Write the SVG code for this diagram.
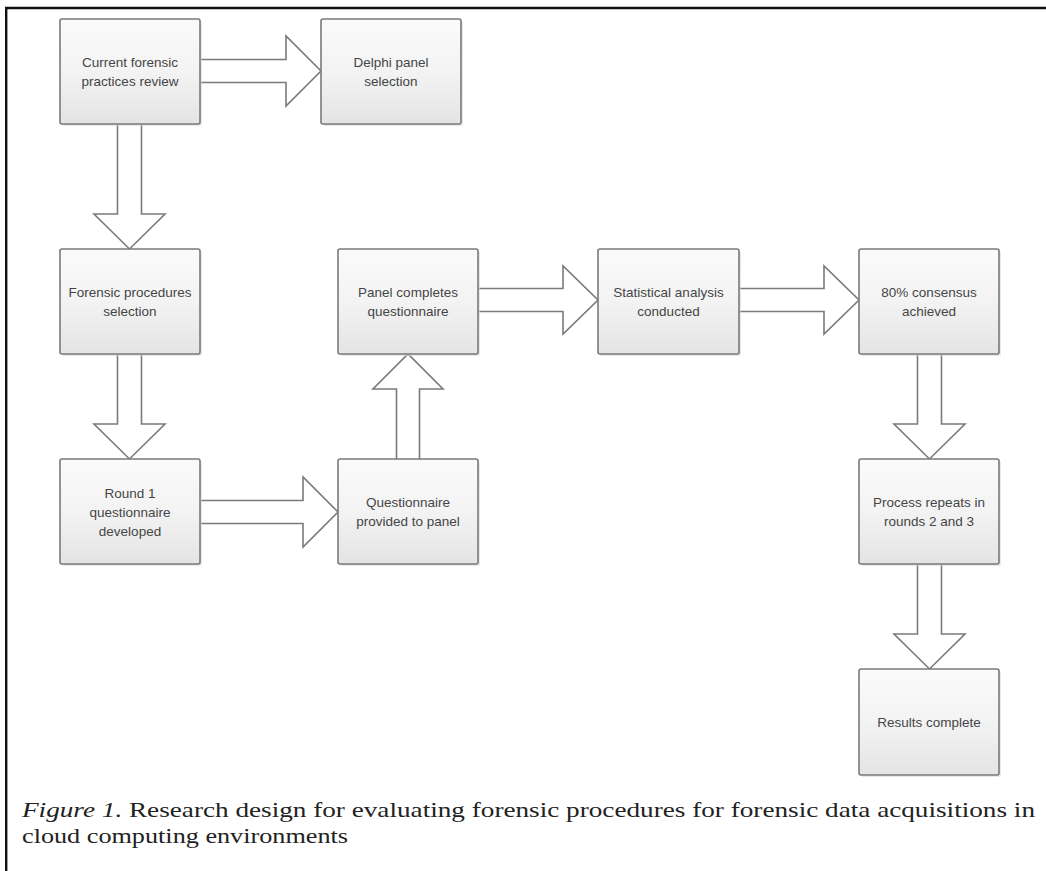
<svg xmlns="http://www.w3.org/2000/svg" width="1046" height="871" viewBox="0 0 1046 871">
<defs>
<linearGradient id="boxfill" x1="0" y1="0" x2="0" y2="1">
<stop offset="0" stop-color="#fbfbfb"/>
<stop offset="0.5" stop-color="#f3f3f3"/>
<stop offset="1" stop-color="#e4e4e4"/>
</linearGradient>
</defs>
<style>
.box{fill:url(#boxfill);stroke:#7a7a7a;stroke-width:1.6}
.shadow{fill:#d8d8d8;opacity:0.6}
.lbl{font-family:"Liberation Sans",Arial,sans-serif;font-size:13.5px;fill:#454545;text-anchor:middle}
.arrow{fill:#ffffff;stroke:#7a7a7a;stroke-width:1.6;stroke-linejoin:miter}
.cap{font-family:"Liberation Serif","Times New Roman",serif;font-size:22px;fill:#222222}
</style>
<rect x="0" y="0" width="1046" height="871" fill="#ffffff"/>
<g id="frame">
<line x1="5" y1="8" x2="1046" y2="8" stroke="#111" stroke-width="2.4"/>
<line x1="6.2" y1="7" x2="6.2" y2="871" stroke="#111" stroke-width="2.4"/>
</g>
<g id="connectors">
<path class="arrow" d="M200,59.5 H286 V36 L321,71 L286,106 V82.5 H200"/>
<path class="arrow" d="M199,500.5 H303 V477 L338,512 L303,547 V523.5 H199"/>
<path class="arrow" d="M478,288.5 H563 V266 L598,300 L563,334 V311.5 H478"/>
<path class="arrow" d="M739,288.5 H824 V266 L859,300 L824,334 V311.5 H739"/>
<path class="arrow" d="M117.5,124 V214 H94 L129.5,249 L165,214 H141.5 V124"/>
<path class="arrow" d="M117.5,354 V424 H94 L129.5,459 L165,424 H141.5 V354"/>
<path class="arrow" d="M917.5,354 V424 H894 L929.5,459 L965,424 H941.5 V354"/>
<path class="arrow" d="M917.5,564 V634 H894 L929.5,669 L965,634 H941.5 V564"/>
<path class="arrow" d="M396.5,459 V389 H373 L408,354 L443,389 H419.5 V459"/>
</g>
<g id="n1">
<rect class="shadow" x="62" y="21" width="140" height="105" rx="2"/>
<rect class="box" x="60" y="19" width="140" height="105" rx="2"/>
<text class="lbl" x="130" y="67">Current forensic</text>
<text class="lbl" x="130" y="86">practices review</text>
</g>
<g id="n2">
<rect class="shadow" x="323" y="21" width="140" height="105" rx="2"/>
<rect class="box" x="321" y="19" width="140" height="105" rx="2"/>
<text class="lbl" x="391" y="67">Delphi panel</text>
<text class="lbl" x="391" y="86">selection</text>
</g>
<g id="n3">
<rect class="shadow" x="62" y="251" width="140" height="105" rx="2"/>
<rect class="box" x="60" y="249" width="140" height="105" rx="2"/>
<text class="lbl" x="130" y="297">Forensic procedures</text>
<text class="lbl" x="130" y="316">selection</text>
</g>
<g id="n4">
<rect class="shadow" x="62" y="461" width="140" height="105" rx="2"/>
<rect class="box" x="60" y="459" width="140" height="105" rx="2"/>
<text class="lbl" x="130" y="498">Round 1</text>
<text class="lbl" x="130" y="517">questionnaire</text>
<text class="lbl" x="130" y="536">developed</text>
</g>
<g id="n5">
<rect class="shadow" x="340" y="461" width="140" height="105" rx="2"/>
<rect class="box" x="338" y="459" width="140" height="105" rx="2"/>
<text class="lbl" x="408" y="507">Questionnaire</text>
<text class="lbl" x="408" y="526">provided to panel</text>
</g>
<g id="n6">
<rect class="shadow" x="340" y="251" width="140" height="105" rx="2"/>
<rect class="box" x="338" y="249" width="140" height="105" rx="2"/>
<text class="lbl" x="408" y="297">Panel completes</text>
<text class="lbl" x="408" y="316">questionnaire</text>
</g>
<g id="n7">
<rect class="shadow" x="600" y="251" width="141" height="105" rx="2"/>
<rect class="box" x="598" y="249" width="141" height="105" rx="2"/>
<text class="lbl" x="668.5" y="297">Statistical analysis</text>
<text class="lbl" x="668.5" y="316">conducted</text>
</g>
<g id="n8">
<rect class="shadow" x="861" y="251" width="140" height="105" rx="2"/>
<rect class="box" x="859" y="249" width="140" height="105" rx="2"/>
<text class="lbl" x="929" y="297">80% consensus</text>
<text class="lbl" x="929" y="316">achieved</text>
</g>
<g id="n9">
<rect class="shadow" x="861" y="461" width="140" height="105" rx="2"/>
<rect class="box" x="859" y="459" width="140" height="105" rx="2"/>
<text class="lbl" x="929" y="507">Process repeats in</text>
<text class="lbl" x="929" y="526">rounds 2 and 3</text>
</g>
<g id="n10">
<rect class="shadow" x="861" y="671" width="140" height="106" rx="2"/>
<rect class="box" x="859" y="669" width="140" height="106" rx="2"/>
<text class="lbl" x="929" y="727">Results complete</text>
</g>
<g id="caption">
<text class="cap" x="22" y="817" textLength="1013" lengthAdjust="spacingAndGlyphs"><tspan font-style="italic">Figure 1.</tspan>  Research design for evaluating forensic procedures for forensic data acquisitions in</text>
<text class="cap" x="22" y="843" textLength="326" lengthAdjust="spacingAndGlyphs">cloud computing environments</text>
</g>
</svg>
